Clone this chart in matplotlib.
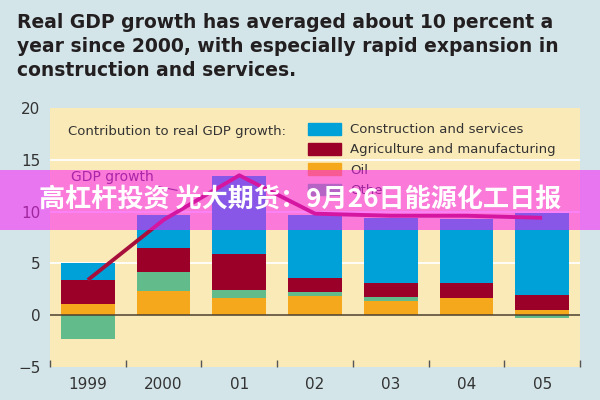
import numpy as np
import matplotlib as mpl
import matplotlib.pyplot as plt
from matplotlib.patches import Rectangle, Patch
# -------------------------------------------------------------------------------------------------

mpl.use('AGG')

# Data (percentage points)
years = ['1999', '2000', '01', '02', '03', '04', '05']
oil = [1.1, 2.35, 1.7, 1.9, 1.35, 1.7, 0.55]
other = [-2.3, 1.8, 0.7, 0.3, 0.4, 0.0, -0.3]
agri_manuf = [2.3, 2.3, 3.5, 1.4, 1.4, 1.45, 1.4]
constr_serv = [1.6, 3.2, 7.5, 6.05, 6.2, 6.15, 7.9]
gdp_growth = [3.4, 9.2, 13.5, 9.8, 9.6, 9.6, 9.4]

title_lines = [
	'Real GDP growth has averaged about 10 percent a',
	'year since 2000, with especially rapid expansion in',
	'construction and services.',
]
banner_text = '高杠杆投资 光大期货：9月26日能源化工日报'

# Colours
bg_color = '#d3e5e9'
plot_bg = '#faeab7'
blue = '#00a0d8'
red = '#9b0028'
orange = '#f6a81c'
green = '#62bb8a'
line_color = '#a8103c'
text_color = '#333333'

# Begin plot ---------->
(fig, ax) = plt.subplots(figsize=(6, 4), dpi=100, facecolor=bg_color)
fig.subplots_adjust(left=50/600, right=580/600, bottom=1-367/400, top=1-108/400)
ax.set_facecolor(plot_bg)
for s in ax.spines.values():
	s.set_visible(False)

x = np.arange(len(years))
oil_a = np.array(oil)
other_a = np.array(other)
agri_a = np.array(agri_manuf)
pos_other = np.clip(other_a, 0, None)
other_bottom = np.where(other_a >= 0, oil_a, 0)
agri_bottom = oil_a + pos_other
constr_bottom = agri_bottom + agri_a

# Grid lines
for ytick in (5, 10, 15):
	ax.axhline(y=ytick, color='white', linewidth=1.3, zorder=1)

w = 0.71
ax.bar(x, oil, width=w, color=orange, zorder=2)
ax.bar(x, other, width=w, bottom=other_bottom, color=green, zorder=2)
ax.bar(x, agri_manuf, width=w, bottom=agri_bottom, color=red, zorder=2)
ax.bar(x, constr_serv, width=w, bottom=constr_bottom, color=blue, zorder=2)

ax.axhline(y=0, color='#4a4030', linewidth=1.1, zorder=3)

ax.plot(x, gdp_growth, color=line_color, linewidth=2.8, zorder=4,
	solid_joinstyle='round', solid_capstyle='butt')

ax.annotate('GDP growth', xy=(1.18, 12.05), xytext=(0.32, 13.3),
	ha='center', va='center', fontsize=10, color='#4a3048',
	arrowprops=dict(arrowstyle='-', color='#4a3048', linewidth=0.8,
		shrinkA=2, shrinkB=0), zorder=5)

# Legend
ax.text(0.034, 0.911, 'Contribution to real GDP growth:', transform=ax.transAxes,
	ha='left', va='center', fontsize=9.5, color=text_color)
handles = [Patch(color=blue), Patch(color=red), Patch(color=orange), Patch(color=green)]
labels = ['Construction and services', 'Agriculture and manufacturing', 'Oil', 'Other']
leg = ax.legend(handles, labels, loc='upper left', bbox_to_anchor=(0.487, 0.943),
	frameon=False, fontsize=9.5, handlelength=2.5, handleheight=1.0,
	labelspacing=0.52, handletextpad=0.7, borderpad=0, borderaxespad=0)
for t in leg.get_texts():
	t.set_color(text_color)

# Axes
ax.set_xlim(-0.5, len(years) - 0.5)
ax.set_ylim(-5, 20)
ax.set_xticks(x, labels=years)
ax.set_xticks(np.arange(-0.5, len(years), 1), minor=True)
ax.set_yticks([-5, 0, 5, 10, 15, 20])
ax.tick_params(axis='x', which='major', length=0, pad=7, labelsize=11, labelcolor=text_color)
ax.tick_params(axis='x', which='minor', direction='in', length=5, width=1, color='#555555')
ax.tick_params(axis='y', length=0, pad=7, labelsize=11, labelcolor=text_color)

# Title
for (i, line) in enumerate(title_lines):
	fig.text(17/600, 1 - (28 + i * 24)/400, line, ha='left', va='baseline',
		fontsize=13.5, fontweight='bold', color='#231f20')

# Overlay banner
fig.patches.append(Rectangle((0, 1 - 230/400), 1, 60/400, transform=fig.transFigure,
	facecolor='#fa1cf6', alpha=0.55, edgecolor='none', zorder=10))
fig.text(0.5, 1 - 199/400, banner_text, ha='center', va='center', fontsize=18.8,
	fontweight='bold', color='white', family=['Noto Sans CJK SC', 'DejaVu Sans'], zorder=11)

fig.savefig('out.png', dpi=100, facecolor=bg_color)
plt.close()
